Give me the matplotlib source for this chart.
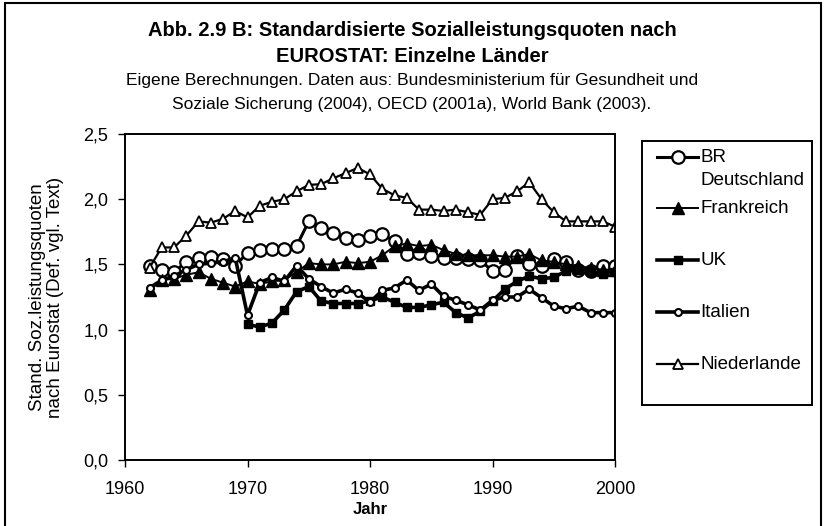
import numpy as np
import matplotlib.pyplot as plt
from matplotlib.patches import Rectangle
from matplotlib.ticker import FuncFormatter

plt.rcParams['font.family'] = ['Liberation Sans', 'DejaVu Sans']

years = np.arange(1962, 2001)
uk_years = np.arange(1970, 2001)

br_deutschland = [1.49, 1.46, 1.44, 1.52, 1.55, 1.56, 1.54, 1.49, 1.59, 1.61,
                  1.62, 1.62, 1.64, 1.83, 1.78, 1.74, 1.70, 1.69, 1.72, 1.73,
                  1.68, 1.58, 1.59, 1.565, 1.55, 1.55, 1.54, 1.53, 1.45, 1.46,
                  1.565, 1.50, 1.49, 1.54, 1.52, 1.46, 1.45, 1.49, 1.49]
frankreich = [1.30, 1.38, 1.39, 1.42, 1.44, 1.39, 1.36, 1.33, 1.37, 1.35,
              1.37, 1.38, 1.44, 1.51, 1.50, 1.50, 1.52, 1.51, 1.52, 1.57,
              1.64, 1.66, 1.64, 1.65, 1.61, 1.58, 1.57, 1.57, 1.57, 1.56,
              1.56, 1.58, 1.53, 1.52, 1.50, 1.49, 1.47, 1.46, 1.46]
uk = [1.04, 1.02, 1.05, 1.15, 1.29, 1.33, 1.22, 1.20, 1.20, 1.20,
      1.22, 1.25, 1.21, 1.17, 1.17, 1.19, 1.21, 1.13, 1.09, 1.14,
      1.22, 1.31, 1.37, 1.41, 1.39, 1.40, 1.45, 1.46, 1.44, 1.43, 1.44]
italien = [1.32, 1.38, 1.41, 1.46, 1.50, 1.51, 1.52, 1.55, 1.11, 1.36,
           1.40, 1.37, 1.49, 1.39, 1.33, 1.28, 1.31, 1.28, 1.21, 1.30,
           1.32, 1.38, 1.30, 1.35, 1.255, 1.225, 1.19, 1.15, 1.225, 1.25,
           1.25, 1.31, 1.245, 1.18, 1.16, 1.18, 1.13, 1.13, 1.13]
niederlande = [1.475, 1.63, 1.63, 1.72, 1.83, 1.82, 1.85, 1.91, 1.86, 1.95,
               1.98, 2.00, 2.06, 2.11, 2.115, 2.16, 2.20, 2.24, 2.19, 2.08,
               2.03, 2.01, 1.92, 1.92, 1.91, 1.92, 1.90, 1.88, 2.00, 2.01,
               2.06, 2.13, 2.00, 1.90, 1.83, 1.83, 1.83, 1.83, 1.79]

labels = ["BR\nDeutschland", "Frankreich", "UK", "Italien", "Niederlande"]

styles = [
    dict(marker="o", ms=9, mfc="white", mec="black", mew=1.6, lw=2.2),
    dict(marker="^", ms=8, mfc="black", mec="black", mew=1.0, lw=1.4),
    dict(marker="s", ms=6, mfc="black", mec="black", mew=1.0, lw=2.6),
    dict(marker="o", ms=5, mfc="white", mec="black", mew=1.5, lw=2.6),
    dict(marker="^", ms=7, mfc="white", mec="black", mew=1.3, lw=1.6),
]
series = [(years, br_deutschland), (years, frankreich), (uk_years, uk),
          (years, italien), (years, niederlande)]

fig = plt.figure(figsize=(8.24, 5.26), dpi=100)
ax = fig.add_axes([125 / 824, 1 - 460 / 526, 490 / 824, 326 / 526])

for (x, y), st in zip(series, styles):
    ax.plot(x, y, color="black", **st)

ax.set_xlim(1960, 2000)
ax.set_ylim(0, 2.5)
ax.set_xticks(np.arange(1960, 2001, 10))
ax.set_yticks(np.arange(0, 2.51, 0.5))
ax.yaxis.set_major_formatter(FuncFormatter(lambda v, p: f"{v:.1f}".replace(".", ",")))
ax.tick_params(direction="out", length=5, width=1, labelsize=13)
ax.tick_params(axis="x", pad=10)
ax.tick_params(axis="y", pad=7)
for s in ax.spines.values():
    s.set_linewidth(1.4)

ax.set_xlabel("Jahr", fontsize=12, fontweight="bold", labelpad=3)
ax.set_ylabel("Stand. Soz.leistungsquoten\nnach Eurostat (Def. vgl. Text)", fontsize=13.5,
              labelpad=14, linespacing=1.05)

fig.text(0.5, 1 - 31 / 526, "Abb. 2.9 B: Standardisierte Sozialleistungsquoten nach",
         ha="center", va="center", fontsize=14.5, fontweight="bold")
fig.text(0.5, 1 - 56 / 526, "EUROSTAT: Einzelne Länder",
         ha="center", va="center", fontsize=14.5, fontweight="bold")
fig.text(0.5, 1 - 81 / 526, "Eigene Berechnungen. Daten aus: Bundesministerium für Gesundheit und",
         ha="center", va="center", fontsize=12.5)
fig.text(0.5, 1 - 105 / 526, "Soziale Sicherung (2004), OECD (2001a), World Bank (2003).",
         ha="center", va="center", fontsize=12.5)

# legend box drawn by hand, like the Excel original
lax = fig.add_axes([642 / 824, 1 - 405 / 526, 170 / 824, 264 / 526])
lax.set_xlim(0, 1)
lax.set_ylim(0, 1)
lax.set_xticks([])
lax.set_yticks([])
for s in lax.spines.values():
    s.set_linewidth(1.4)
leg_y = [0.939, 0.746, 0.549, 0.352, 0.155]
for yy, st, lab in zip(leg_y, styles, labels):
    lax.plot([0.09, 0.21, 0.33], [yy, yy, yy], color="black", markevery=[1], **st)
    if "\n" in lab:
        top, bottom = lab.split("\n")
        lax.text(0.345, yy, top, va="center", fontsize=13.5)
        lax.text(0.345, yy - 0.087, bottom, va="center", fontsize=13.5)
    else:
        lax.text(0.345, yy, lab, va="center", fontsize=13.5)

fig.patches.append(Rectangle((0.006, -0.02), 0.99, 1.014, transform=fig.transFigure,
                             fill=False, lw=1.5, ec="black"))

fig.savefig("out.png", dpi=100)
